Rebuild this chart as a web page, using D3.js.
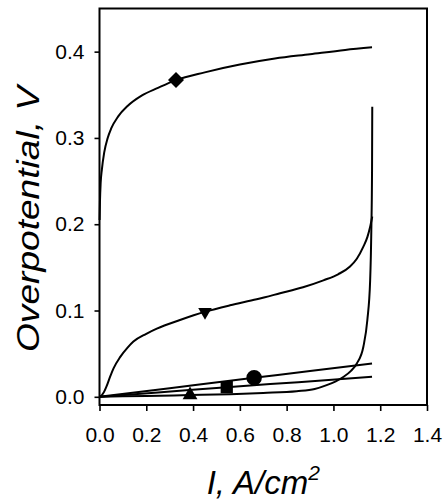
<!DOCTYPE html>
<html>
<head>
<meta charset="utf-8">
<script src="https://cdn.jsdelivr.net/npm/d3@7"></script>
<style>
  html, body { margin: 0; padding: 0; background: #fff; }
  svg { display: block; }
  text { font-family: "Liberation Sans", Arial, Helvetica, sans-serif; fill: #000; }
</style>
</head>
<body>
<svg id="chart" width="444" height="501"></svg>
<script>
// Current density (A/cm^2) and overpotential (V) for each polarization curve
const diamondI = [0.0005, 0.002, 0.005, 0.01, 0.02, 0.035, 0.05, 0.08, 0.12, 0.18, 0.25, 0.327, 0.45, 0.6, 0.75, 0.9, 1.05, 1.165];
const diamondV = [0.205, 0.226, 0.248, 0.263, 0.283, 0.300, 0.311, 0.325, 0.337, 0.349, 0.358, 0.367, 0.376, 0.385, 0.392, 0.397, 0.402, 0.405];

const triDownI = [0, 0.01, 0.02, 0.03, 0.045, 0.06, 0.088, 0.12, 0.145, 0.2, 0.245, 0.344, 0.451, 0.558, 0.672, 0.772, 0.87, 0.957, 1.02, 1.071, 1.1, 1.128, 1.145, 1.157, 1.166];
const triDownV = [0, 0.002, 0.006, 0.012, 0.023, 0.033, 0.046, 0.057, 0.064, 0.073, 0.079, 0.089, 0.0985, 0.106, 0.113, 0.120, 0.127, 0.135, 0.142, 0.151, 0.160, 0.174, 0.185, 0.197, 0.209];

const circleI = [0, 0.3, 0.661, 0.9, 1.165];
const circleV = [0, 0.010, 0.022, 0.0298, 0.0387];

const squareI = [0, 0.25, 0.544, 0.85, 1.165];
const squareV = [0, 0.005, 0.0112, 0.017, 0.0232];

const triUpI = [0, 0.1, 0.2, 0.387, 0.558, 0.7, 0.843, 0.92, 0.971, 1.01, 1.042, 1.075, 1.1, 1.128, 1.145, 1.157, 1.162, 1.165, 1.166];
const triUpV = [0, 0.0005, 0.001, 0.002, 0.003, 0.0045, 0.0065, 0.009, 0.0135, 0.018, 0.023, 0.030, 0.0387, 0.058, 0.089, 0.135, 0.193, 0.26, 0.336];

// Index of the point on each curve that carries its symbol
const markerIndex = { diamond: 11, triDown: 12, circle: 2, square: 2, triUp: 3 };

const xTicks = [0.0, 0.2, 0.4, 0.6, 0.8, 1.0, 1.2, 1.4];
const yTicks = [0.0, 0.1, 0.2, 0.3, 0.4];
const xTitle = "I, A/cm";
const xTitleSup = "2";
const yTitle = "Overpotential, V";

const zip = (xs, ys) => xs.map((x, i) => ({ I: x, V: ys[i] }));
const series = [
  { key: "diamond", pts: zip(diamondI, diamondV), symbol: "diamond" },
  { key: "triDown", pts: zip(triDownI, triDownV), symbol: "triDown" },
  { key: "circle",  pts: zip(circleI, circleV),   symbol: "circle" },
  { key: "square",  pts: zip(squareI, squareV),   symbol: "square" },
  { key: "triUp",   pts: zip(triUpI, triUpV),     symbol: "triUp" }
];

const svg = d3.select("#chart");
const plot = { left: 99.5, right: 427, top: 8.5, bottom: 405 };

const x = d3.scaleLinear().domain([0, 1.4]).range([plot.left, plot.right]);
const y = d3.scaleLinear().domain([-0.0095, 0.45]).range([plot.bottom, plot.top]);

// Axes
const xAxis = d3.axisBottom(x).tickValues(xTicks).tickFormat(d3.format(".1f"))
  .tickSize(6).tickSizeOuter(0).tickPadding(16);
const yAxis = d3.axisLeft(y).tickValues(yTicks).tickFormat(d3.format(".1f"))
  .tickSize(5).tickSizeOuter(0).tickPadding(10);

const gx = svg.append("g").attr("transform", `translate(0,${plot.bottom})`).call(xAxis);
const gy = svg.append("g").attr("transform", `translate(${plot.left},0)`).call(yAxis);
[gx, gy].forEach(g => {
  g.select(".domain").remove();
  g.selectAll(".tick line").attr("stroke", "#000").attr("stroke-width", 1.6);
  g.selectAll(".tick text").style("font-size", "21px").attr("fill", "#000");
});

// Frame around plotting area
svg.append("rect")
  .attr("x", plot.left).attr("y", plot.top)
  .attr("width", plot.right - plot.left).attr("height", plot.bottom - plot.top)
  .attr("fill", "none").attr("stroke", "#000").attr("stroke-width", 2);

// Curves
const line = d3.line().x(d => x(d.I)).y(d => y(d.V)).curve(d3.curveMonotoneX);
svg.append("g").selectAll("path.curve").data(series).join("path")
  .attr("class", "curve")
  .attr("d", d => line(d.pts))
  .attr("fill", "none").attr("stroke", "#000").attr("stroke-width", 2)
  .attr("stroke-linejoin", "round");

// Symbols
const symbolDefs = {
  diamond: { type: d3.symbolSquare, size: 128, rotate: 45 },
  triDown: { type: d3.symbolTriangle, size: 80, rotate: 180 },
  circle:  { type: d3.symbolCircle, size: 190, rotate: 0 },
  square:  { type: d3.symbolSquare, size: 150, rotate: 0 },
  triUp:   { type: d3.symbolTriangle, size: 95, rotate: 0 }
};
svg.append("g").selectAll("path.marker").data(series).join("path")
  .attr("class", "marker")
  .attr("d", d => d3.symbol().type(symbolDefs[d.symbol].type).size(symbolDefs[d.symbol].size)())
  .attr("transform", d => {
    const p = d.pts[markerIndex[d.key]];
    return `translate(${x(p.I)},${y(p.V)}) rotate(${symbolDefs[d.symbol].rotate})`;
  })
  .attr("fill", "#000");

// Axis titles
const xt = svg.append("text")
  .attr("x", (plot.left + plot.right) / 2).attr("y", 494)
  .attr("text-anchor", "middle")
  .style("font-size", "33px").style("font-style", "italic");
xt.append("tspan").text(xTitle);
xt.append("tspan").attr("dy", -14).style("font-size", "21px").text(xTitleSup);

svg.append("text")
  .attr("transform", `translate(39,219) rotate(-90)`)
  .attr("text-anchor", "middle")
  .attr("textLength", 266).attr("lengthAdjust", "spacingAndGlyphs")
  .style("font-size", "32px").style("font-style", "italic")
  .text(yTitle);
</script>
</body>
</html>
